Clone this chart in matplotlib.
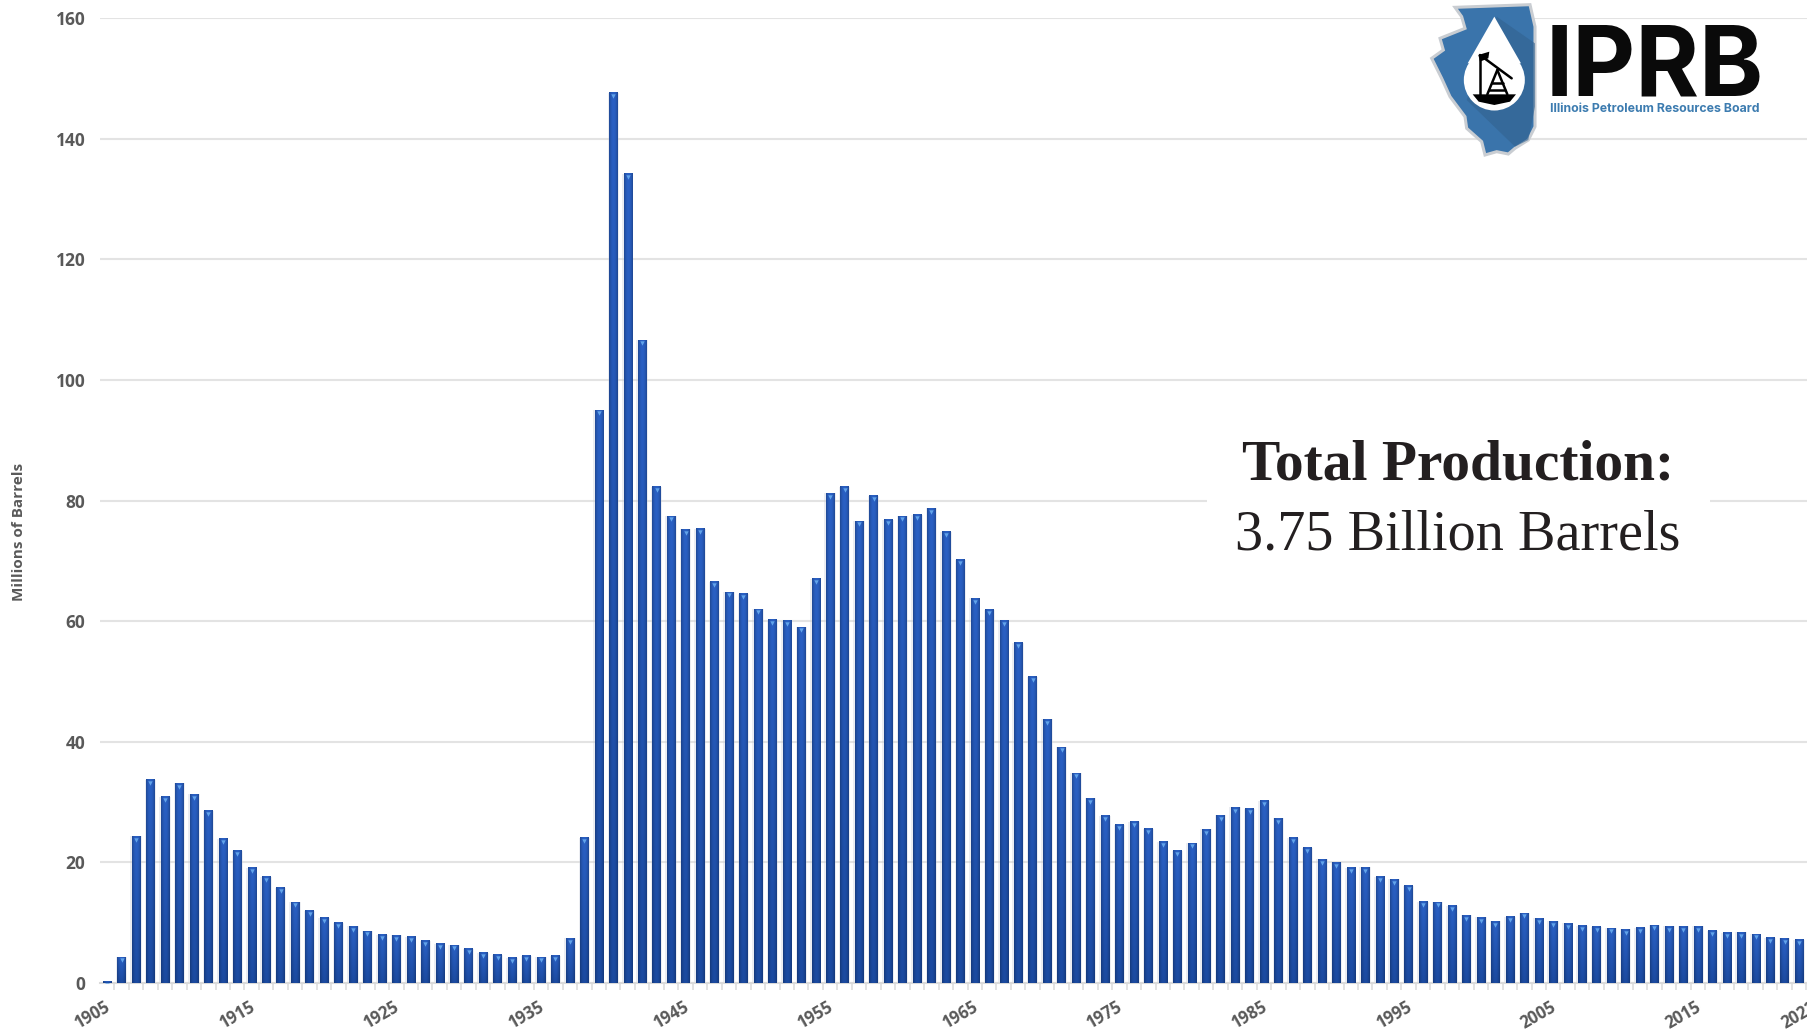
import numpy as np
import matplotlib
matplotlib.use("Agg")
import matplotlib.pyplot as plt
from matplotlib.patches import Polygon, Circle, Rectangle
from matplotlib.colors import to_rgb

years = list(range(1905, 2023))
production = [
    0.2, 4.3, 24.3, 33.7, 30.9, 33.1, 31.3, 28.6, 23.9, 21.9,
    19.1, 17.6, 15.8, 13.4, 12.0, 10.8, 10.0, 9.4, 8.6, 8.0,
    7.9, 7.7, 7.0, 6.5, 6.3, 5.7, 5.0, 4.7, 4.2, 4.5,
    4.3, 4.5, 7.4, 24.1, 95.0, 147.6, 134.2, 106.6, 82.3, 77.4,
    75.2, 75.3, 66.5, 64.8, 64.5, 62.0, 60.2, 60.1, 59.0, 67.0,
    81.2, 82.3, 76.6, 80.8, 76.8, 77.4, 77.6, 78.7, 74.8, 70.2,
    63.8, 61.9, 60.1, 56.4, 50.8, 43.7, 39.1, 34.8, 30.6, 27.7,
    26.2, 26.7, 25.6, 23.4, 21.9, 23.2, 25.5, 27.8, 29.1, 28.9,
    30.2, 27.3, 24.1, 22.4, 20.5, 20.0, 19.1, 19.2, 17.6, 17.2,
    16.1, 13.5, 13.4, 12.8, 11.2, 10.9, 10.2, 11.0, 11.6, 10.7,
    10.2, 9.9, 9.5, 9.3, 9.1, 8.9, 9.2, 9.6, 9.4, 9.4,
    9.4, 8.7, 8.3, 8.4, 8.1, 7.5, 7.4, 7.2,
]
y_ticks = [0, 20, 40, 60, 80, 100, 120, 140, 160]
x_label_years = [1905, 1915, 1925, 1935, 1945, 1955, 1965, 1975, 1985, 1995, 2005, 2015]
last_label = "2022"
y_title = "Millions of Barrels"
callout_bold = "Total Production:"
callout_regular = "3.75 Billion Barrels"

W, H = 1807, 1029
fig = plt.figure(figsize=(W / 100, H / 100), dpi=100, facecolor="white")

AX_L, AX_R, AX_T, AX_B = 100, 1807, 18, 983
ax = fig.add_axes([AX_L / W, 1 - AX_B / H, (AX_R - AX_L) / W, (AX_B - AX_T) / H])
ax.set_xlim(1905 - 0.49, 2022 + 0.55)
ax.set_ylim(0, 160)
ax.set_facecolor("none")

TICK_GREY = "#595959"
GRID = "#e3e3e3"
ax.set_yticks(y_ticks)
ax.set_yticklabels([str(v) for v in y_ticks], family="Open Sans", fontweight="bold",
                   fontsize=12.5, color=TICK_GREY)
ax.tick_params(axis="y", length=0, pad=10.5)
ax.grid(axis="y", color=GRID, lw=1.5, zorder=0)
ax.set_axisbelow(True)
for s in ["top", "right", "left"]:
    ax.spines[s].set_visible(False)
ax.spines["bottom"].set_color("#dadada")
ax.spines["bottom"].set_linewidth(1.5)

ax.set_xticks([y - 0.5 for y in years] + [2022.5])
ax.set_xticklabels([])
ax.tick_params(axis="x", length=5, width=1.2, color="#dedede")

# tick labels, rotated and right-anchored below each labelled bar
for yr in x_label_years:
    ax.annotate(str(yr), xy=(yr, 0), xycoords=ax.get_xaxis_transform(),
                xytext=(1, -16.5), textcoords="offset points", rotation=30,
                rotation_mode="anchor", ha="right", va="center", family="Open Sans",
                fontweight="bold", fontsize=12, color=TICK_GREY, annotation_clip=False)
ax.annotate(last_label, xy=(2022, 0), xycoords=ax.get_xaxis_transform(),
            xytext=(12, -16.5), textcoords="offset points", rotation=30,
            rotation_mode="anchor", ha="right", va="center", family="Open Sans",
            fontweight="bold", fontsize=12, color=TICK_GREY, annotation_clip=False)

# bars with vertical/horizontal shading
BAR_W = 0.57
shadow = ax.bar(years, production, width=BAR_W + 0.22, color="#bfc6d4", alpha=0.3,
                linewidth=0, zorder=2)
bars = ax.bar(years, production, width=BAR_W, color="#2158b8", linewidth=0, zorder=3)

top_c = np.array(to_rgb("#2a60c4"))
bot_c = np.array(to_rgb("#1b4aa0"))
nv, nh = 64, 9
tv = np.linspace(0, 1, nv)[:, None, None]
prof = np.abs(np.linspace(-1, 1, nh))[None, :, None]
grad = (top_c * (1 - tv) + bot_c * tv) * (1 - 0.2 * prof ** 2)
for rect, val in zip(bars, production):
    x0 = rect.get_x()
    ax.imshow(grad, extent=(x0, x0 + rect.get_width(), 0, val), origin="upper",
              aspect="auto", zorder=3.2, interpolation="bilinear")
ax.set_xlim(1905 - 0.49, 2022 + 0.55)
ax.set_ylim(0, 160)

# light cap at the top of every bar
ax.scatter(years, np.array(production) - 0.55, marker="v", s=10, color="#62a4ea",
           linewidths=0, zorder=4)

# overlay in pixel coordinates for callout and logo
ov = fig.add_axes([0, 0, 1, 1], facecolor="none")
ov.set_xlim(0, W)
ov.set_ylim(H, 0)
ov.axis("off")

ov.text(19, 532, y_title, family="Open Sans", fontweight="bold", fontsize=11,
        color=TICK_GREY, rotation=90, ha="center", va="center")

ov.add_patch(Rectangle((1207, 470), 503, 70, fc="white", ec="none", zorder=1))
ov.text(1458, 466, callout_bold, family="Liberation Serif", fontweight="bold",
        fontsize=41.3, color="#231f20", ha="center", va="center", zorder=2)
ov.text(1458, 536, callout_regular, family="Liberation Serif", fontsize=40.5,
        color="#231f20", ha="center", va="center", zorder=2)

def z(pts):
    return [(1400 + px / 3, py / 3) for px, py in pts]

state = [(165, 22), (390, 14), (405, 80), (405, 380), (385, 420), (345, 445), (325, 462),
         (290, 455), (255, 465), (245, 425), (200, 385), (195, 350), (150, 290),
         (125, 235), (95, 175), (130, 150), (120, 115), (195, 85), (185, 50)]
ov.add_patch(Polygon(z(state), closed=True, fc="#3a74ab", ec="#c9cdd2", lw=2.2, zorder=3))
ov.add_patch(Polygon(z([(290, 50), (405, 130), (405, 320), (385, 420), (345, 440), (200, 300)]),
                     closed=True, fc="#32628f", ec="none", alpha=0.6, zorder=3.1))
ov.add_patch(Circle((1400 + 283 / 3, 240 / 3), 30.5, fc="white", ec="none", zorder=3.2))
ov.add_patch(Polygon(z([(283, 50), (363, 190), (203, 190)]), closed=True, fc="white", ec="none", zorder=3.2))
ov.add_patch(Polygon(z([(218, 283), (348, 283), (330, 305), (283, 315), (236, 305)]),
                     closed=True, fc="black", ec="none", zorder=3.3))
for seg in [[(240, 175), (240, 285)], [(240, 165), (335, 235)], [(292, 210), (262, 283)],
            [(292, 210), (322, 283)], [(275, 250), (310, 250)], [(268, 270), (316, 270)]]:
    ov.plot(*zip(*z(seg)), color="black", lw=1.8, zorder=3.4, solid_capstyle="round")
ov.add_patch(Polygon(z([(235, 165), (268, 155), (265, 175), (240, 185)]), closed=True, fc="black", ec="none", zorder=3.4))

ov.text(1400 + 765 / 3, 285 / 3, "IPRB", family="Inter", fontweight="bold", fontsize=70,
        color="#0a0a0a", ha="center", va="baseline", zorder=3)
ov.text(1400 + 765 / 3, 326 / 3, "Illinois Petroleum Resources Board", family="Inter",
        fontweight="bold", fontsize=8.9, color="#3d7cb0", ha="center", va="center", zorder=3)
ov.set_xlim(0, W)
ov.set_ylim(H, 0)

fig.savefig("out.png", dpi=100, facecolor="white")
